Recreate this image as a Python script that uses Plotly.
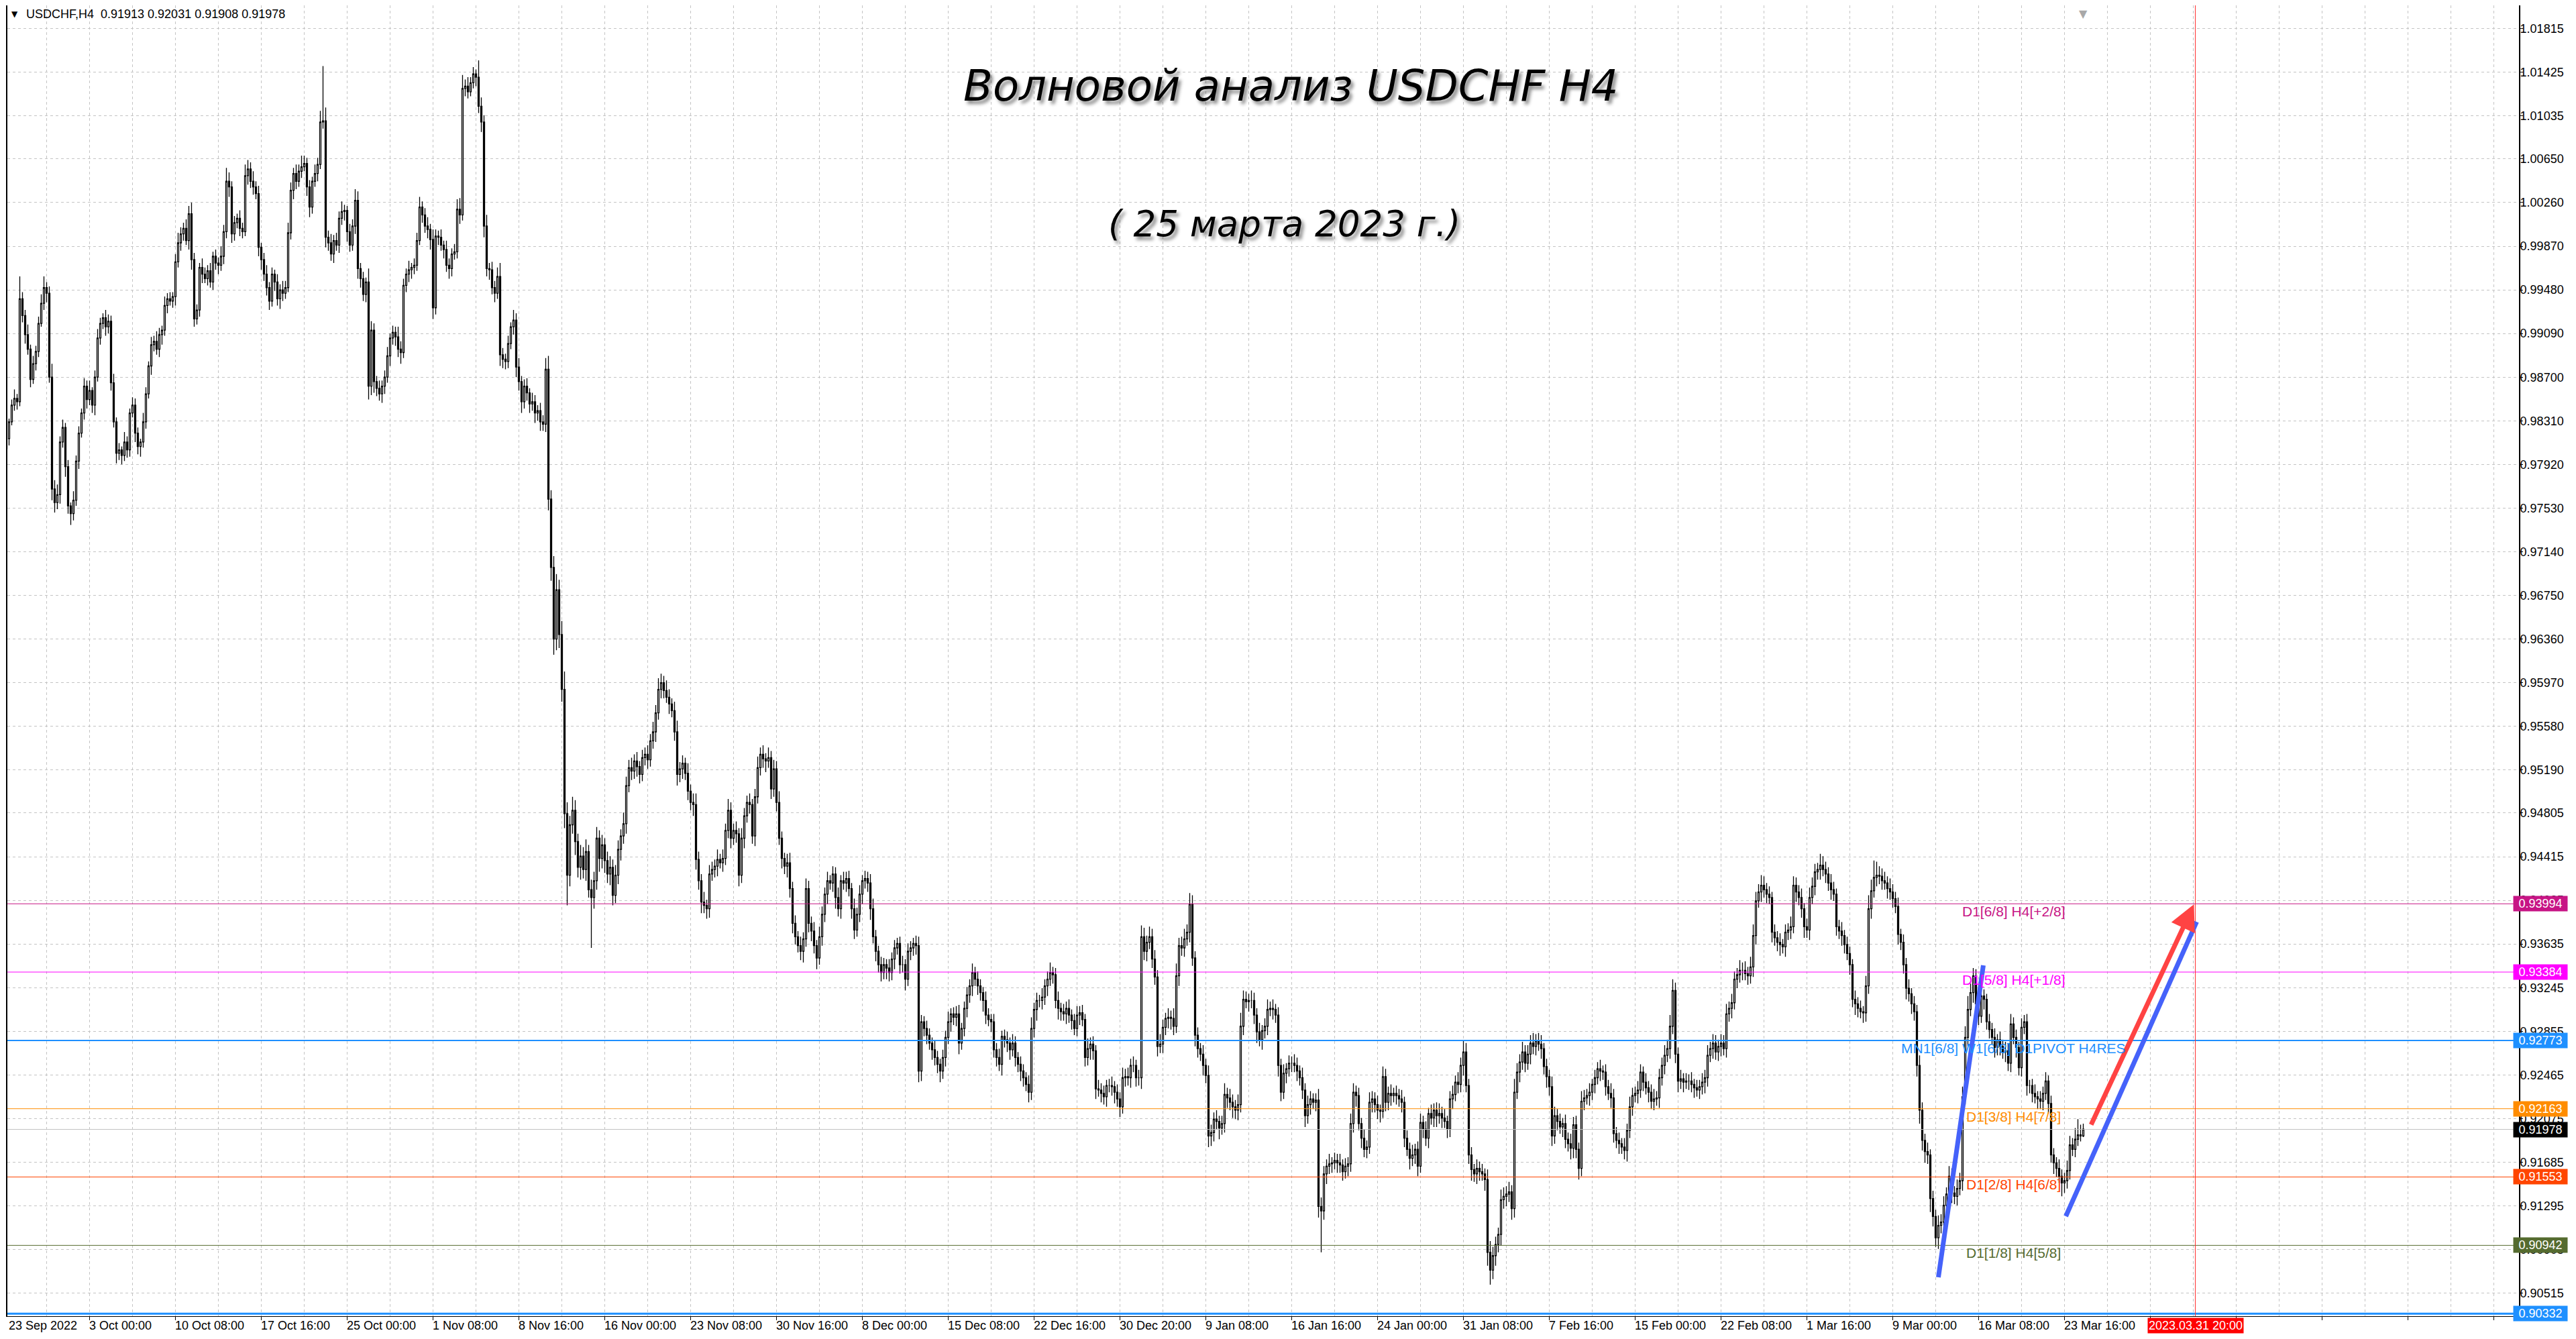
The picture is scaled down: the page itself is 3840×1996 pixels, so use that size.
import plotly.graph_objects as go

# USDCHF H4 - candles, prices in pips (x 10000)
first_open = 9800

close_pips = [
    9806, 9815, 9830, 9845, 9851, 9848, 9940, 9925, 9908, 9895,
    9868, 9882, 9893, 9918, 9936, 9950, 9945, 9870, 9770, 9758,
    9765, 9812, 9825, 9790, 9755, 9748, 9760, 9795, 9820, 9838,
    9862, 9850, 9858, 9845, 9870, 9905, 9918, 9923, 9915, 9920,
    9865, 9830, 9802, 9805, 9800, 9812, 9805, 9838, 9845, 9820,
    9808, 9812, 9830, 9855, 9880, 9899, 9902, 9895, 9908, 9912,
    9934, 9940, 9938, 9942, 9973, 9990, 9998, 10003, 9992, 10016,
    9975, 9922, 9930, 9968, 9962, 9958, 9965, 9955, 9978, 9972,
    9970, 9978, 10000, 10045, 10040, 9998, 10008, 10012, 10003, 10000,
    10050, 10056, 10045, 10040, 10034, 9986, 9975, 9962, 9950, 9938,
    9962, 9955, 9940, 9948, 9945, 9950, 9999, 10037, 10052, 10045,
    10054, 10058, 10061, 10040, 10022, 10045, 10052, 10060, 10098, 10099,
    9995, 9990, 9980, 9992, 9988, 10012, 10018, 10019, 10000, 9988,
    10005, 10028, 9967, 9958, 9944, 9955, 9862, 9912, 9866, 9860,
    9855, 9862, 9870, 9889, 9905, 9910, 9906, 9895, 9892, 9952,
    9962, 9966, 9968, 9970, 9992, 10022, 10015, 10005, 10002, 9993,
    9932, 9996, 9995, 9988, 9984, 9970, 9967, 9980, 9982, 10020,
    10015, 10128, 10130, 10125, 10133, 10141, 10138, 10112, 10098, 10005,
    9967, 9966, 9950, 9945, 9960, 9890, 9886, 9884, 9900, 9915,
    9921, 9879, 9866, 9848, 9862, 9856, 9846, 9848, 9838, 9840,
    9830, 9828, 9877, 9761, 9700, 9636, 9680, 9640, 9591, 9480,
    9425, 9470, 9483, 9455, 9432, 9442, 9430, 9446, 9412, 9405,
    9420, 9458, 9440, 9452, 9438, 9426, 9432, 9407, 9425, 9448,
    9460, 9471, 9505, 9521, 9518, 9527, 9522, 9515, 9530, 9533,
    9528, 9545, 9553, 9570, 9591, 9597, 9590, 9584, 9578, 9572,
    9553, 9515, 9520, 9525, 9516, 9500, 9490, 9488, 9439, 9420,
    9401, 9398, 9395, 9426, 9430, 9433, 9439, 9436, 9440, 9465,
    9483, 9458, 9465, 9462, 9425, 9458, 9478, 9490, 9488, 9460,
    9495, 9521, 9533, 9529, 9527, 9530, 9502, 9520, 9490, 9458,
    9440, 9433, 9436, 9413, 9382, 9370, 9362, 9357, 9368, 9413,
    9382, 9375, 9362, 9351, 9370, 9390, 9408, 9420, 9418, 9426,
    9405, 9395, 9420, 9418, 9422, 9413, 9395, 9376, 9390, 9408,
    9420, 9422, 9418, 9395, 9370, 9357, 9345, 9338, 9345, 9342,
    9338, 9350, 9360, 9364, 9345, 9345, 9332, 9357, 9360, 9364,
    9362, 9250, 9294, 9288, 9282, 9275, 9269, 9262, 9256, 9250,
    9262, 9280, 9294, 9301, 9298, 9301, 9275, 9288, 9306, 9318,
    9326, 9338, 9332, 9326, 9320, 9313, 9300, 9296, 9294, 9269,
    9262, 9256, 9281, 9278, 9275, 9269, 9275, 9262, 9256, 9250,
    9244, 9238, 9231, 9288, 9305, 9313, 9313, 9316, 9326, 9332,
    9338, 9336, 9313, 9306, 9303, 9301, 9306, 9300, 9295, 9288,
    9300, 9302, 9296, 9262, 9270, 9274, 9268, 9234, 9233, 9230,
    9227, 9237, 9237, 9236, 9231, 9225, 9218, 9244, 9245, 9244,
    9255, 9255, 9244, 9244, 9370, 9357, 9365, 9370, 9350, 9334,
    9272, 9274, 9289, 9297, 9298, 9297, 9290, 9335, 9362, 9360,
    9368, 9374, 9399, 9351, 9282, 9270, 9265, 9255, 9246, 9192,
    9195, 9207, 9205, 9199, 9203, 9229, 9226, 9222, 9218, 9215,
    9220, 9290, 9314, 9312, 9313, 9313, 9300, 9285, 9278, 9286,
    9290, 9305, 9306, 9305, 9300, 9255, 9231, 9248, 9252, 9257,
    9257, 9255, 9250, 9244, 9233, 9210, 9220, 9225, 9222, 9224,
    9129, 9125, 9158, 9165, 9167, 9168, 9170, 9168, 9166, 9160,
    9165, 9167, 9203, 9231, 9228, 9203, 9190, 9180, 9182, 9222,
    9225, 9220, 9215, 9214, 9245, 9222, 9230, 9228, 9230, 9228,
    9225, 9222, 9190, 9180, 9172, 9175, 9180, 9165, 9204, 9198,
    9190, 9212, 9208, 9215, 9210, 9212, 9208, 9205, 9198, 9225,
    9229, 9240, 9238, 9255, 9267, 9237, 9175, 9162, 9158, 9163,
    9160, 9158, 9153, 9088, 9072, 9085, 9095, 9104, 9135, 9138,
    9140, 9142, 9127, 9231, 9249, 9258, 9267, 9257, 9265, 9275,
    9272, 9277, 9274, 9270, 9254, 9245, 9236, 9192, 9210, 9205,
    9200, 9203, 9189, 9185, 9181, 9202, 9180, 9163, 9223, 9226,
    9228, 9231, 9238, 9244, 9252, 9250, 9249, 9236, 9230, 9226,
    9194, 9188, 9185, 9182, 9179, 9197, 9218, 9228, 9230, 9233,
    9249, 9240, 9235, 9231, 9223, 9225, 9226, 9244, 9255, 9264,
    9270, 9290, 9322, 9265, 9241, 9243, 9240, 9241, 9241, 9238,
    9235, 9233, 9236, 9240, 9244, 9264, 9270, 9275, 9267, 9272,
    9275, 9270, 9301, 9306, 9311, 9332, 9336, 9340, 9340, 9337,
    9335, 9343, 9371, 9402, 9410, 9416, 9412, 9408, 9405, 9374,
    9369, 9365, 9363, 9361, 9374, 9376, 9379, 9416, 9410, 9405,
    9395, 9379, 9376, 9405, 9415, 9428, 9430, 9434, 9430, 9426,
    9418, 9412, 9408, 9379, 9375, 9371, 9363, 9355, 9345, 9314,
    9310, 9306, 9303, 9302, 9326, 9395, 9411, 9423, 9425, 9424,
    9420, 9418, 9413, 9410, 9404, 9397, 9372, 9365, 9345, 9324,
    9319, 9310, 9303, 9255, 9215, 9188, 9178, 9175, 9136, 9120,
    9101, 9112, 9115, 9130, 9140, 9156, 9141, 9138, 9145, 9152,
    9227, 9280, 9305, 9320, 9335, 9310, 9299, 9317, 9314, 9294,
    9287, 9280, 9271, 9278, 9272, 9267, 9268, 9257, 9292, 9280,
    9271, 9253, 9289, 9294, 9237, 9237, 9230, 9227, 9225, 9223,
    9230, 9241, 9221, 9175, 9168, 9163, 9156, 9150, 9152, 9161,
    9184, 9180, 9189, 9193, 9192, 9198,
]

# upper / lower shadow lengths in pips
wick_up = [
    4, 6, 3, 5, 8, 4, 20, 6, 5, 9, 4, 7, 5, 6, 8, 10, 5, 6, 12, 8,
    9, 5, 7, 4, 6, 3, 8, 5, 6, 4, 7, 5, 9, 3, 6, 8, 5, 4, 7, 6,
    5, 8, 4, 6, 3, 9, 5, 4, 7, 6, 5, 3, 8, 6, 4, 7, 5, 9, 6, 4,
    8, 5, 6, 4, 7, 9, 6, 5, 8, 7, 10, 6, 5, 4, 8, 6, 5, 7, 4, 6,
    5, 9, 6, 12, 8, 5, 6, 4, 7, 5, 10, 8, 6, 9, 5, 7, 4, 6, 8, 5,
    6, 4, 7, 5, 8, 6, 9, 7, 5, 8, 6, 10, 7, 5, 6, 4, 8, 6, 10, 49,
    12, 6, 8, 5, 7, 6, 9, 5, 4, 7, 6, 10, 8, 5, 6, 4, 12, 8, 6, 5,
    7, 5, 6, 8, 4, 6, 5, 9, 7, 6, 5, 8, 4, 6, 7, 9, 5, 6, 8, 5,
    9, 6, 5, 7, 4, 8, 6, 5, 7, 9, 10, 12, 6, 8, 5, 6, 4, 15, 8, 6,
    10, 5, 7, 6, 8, 12, 6, 5, 7, 4, 9, 6, 8, 5, 6, 7, 4, 8, 6, 5,
    7, 6, 10, 12, 8, 10, 14, 9, 12, 16, 10, 8, 12, 9, 7, 10, 8, 11, 6, 9,
    8, 10, 7, 9, 6, 8, 10, 7, 9, 8, 6, 10, 8, 7, 9, 6, 8, 5, 7, 6,
    8, 6, 9, 7, 10, 8, 6, 9, 7, 5, 8, 10, 6, 7, 5, 9, 6, 8, 10, 7,
    6, 9, 5, 8, 7, 6, 9, 5, 8, 6, 10, 7, 6, 8, 5, 9, 7, 6, 8, 5,
    7, 10, 6, 8, 5, 9, 6, 8, 7, 10, 6, 5, 8, 9, 6, 7, 5, 8, 6, 9,
    7, 6, 8, 5, 9, 7, 6, 8, 5, 7, 6, 9, 5, 8, 6, 7, 5, 9, 6, 8,
    5, 7, 6, 8, 9, 6, 5, 7, 6, 5, 8, 6, 7, 5, 6, 8, 5, 7, 6, 5,
    7, 8, 6, 5, 7, 6, 5, 8, 6, 5, 7, 6, 9, 5, 6, 7, 8, 5, 6, 7,
    6, 8, 5, 7, 6, 5, 8, 6, 5, 7, 6, 8, 5, 6, 7, 5, 8, 6, 5, 7,
    6, 5, 8, 10, 6, 7, 5, 8, 6, 7, 9, 5, 6, 8, 5, 7, 6, 8, 5, 6,
    8, 6, 7, 5, 9, 6, 7, 5, 8, 6, 7, 5, 6, 8, 5, 7, 6, 9, 7, 8,
    6, 8, 5, 7, 10, 8, 6, 9, 7, 8, 6, 9, 7, 5, 8, 6, 9, 11, 7, 8,
    9, 7, 10, 8, 6, 7, 5, 8, 6, 9, 7, 6, 8, 5, 7, 10, 6, 8, 7, 6,
    9, 12, 8, 7, 6, 9, 7, 6, 8, 5, 7, 9, 6, 8, 5, 7, 6, 8, 5, 7,
    6, 8, 7, 5, 9, 6, 8, 7, 5, 6, 10, 8, 7, 6, 9, 5, 7, 6, 8, 5,
    7, 6, 9, 8, 6, 7, 5, 8, 6, 9, 7, 6, 8, 5, 9, 7, 6, 8, 5, 7,
    6, 8, 5, 7, 6, 9, 5, 7, 8, 6, 7, 5, 8, 6, 7, 9, 6, 8, 5, 7,
    8, 6, 9, 7, 10, 8, 6, 7, 5, 8, 6, 7, 5, 9, 10, 8, 7, 6, 9, 8,
    7, 9, 6, 12, 8, 7, 9, 6, 8, 7, 9, 6, 7, 8, 5, 7, 6, 9, 8, 6,
    7, 5, 8, 6, 9, 7, 8, 6, 9, 7, 6, 8, 5, 7, 6, 8, 5, 7, 6, 9,
    8, 6, 7, 5, 8, 6, 9, 7, 6, 8, 7, 5, 8, 6, 7, 9, 6, 8, 7, 9,
    8, 10, 10, 7, 6, 8, 5, 7, 6, 8, 5, 7, 6, 8, 7, 9, 6, 8, 7, 6,
    8, 7, 9, 6, 8, 7, 6, 9, 7, 8, 6, 9, 10, 8, 7, 9, 8, 6, 7, 5,
    7, 6, 8, 5, 7, 6, 9, 8, 7, 6, 8, 5, 7, 9, 8, 7, 6, 10, 8, 7,
    6, 8, 7, 5, 6, 8, 5, 7, 6, 5, 8, 6, 7, 5, 9, 12, 10, 15, 12, 8,
    7, 8, 6, 9, 7, 6, 8, 5, 7, 6, 8, 5, 7, 6, 9, 7, 6, 8, 5, 7,
    6, 9, 7, 8, 6, 9, 7, 6, 8, 7, 9, 10, 12, 8, 7, 6, 8, 7, 6, 5,
    7, 6, 8, 5, 7, 6, 8, 7, 9, 6, 7, 5, 8, 6, 7, 5, 6, 8, 5, 7,
    6, 8, 5, 7, 6, 5, 8, 6, 7, 9, 8, 6, 10, 14, 9, 5,
]

wick_dn = [
    5, 4, 6, 3, 5, 7, 4, 6, 8, 5, 7, 4, 6, 5, 3, 6, 8, 5, 10, 9,
    6, 8, 5, 9, 7, 10, 6, 5, 7, 4, 6, 8, 5, 7, 9, 4, 6, 5, 8, 6,
    7, 5, 9, 6, 8, 5, 7, 6, 4, 8, 7, 9, 5, 6, 4, 8, 6, 5, 7, 9,
    5, 7, 4, 6, 8, 5, 7, 6, 4, 8, 9, 7, 5, 6, 8, 4, 6, 5, 7, 6,
    8, 5, 7, 6, 9, 8, 6, 5, 7, 6, 4, 8, 6, 7, 5, 8, 9, 6, 7, 8,
    5, 8, 6, 9, 7, 5, 4, 6, 8, 7, 5, 6, 4, 8, 9, 6, 5, 7, 4, 6,
    9, 7, 6, 8, 5, 7, 6, 8, 9, 6, 5, 7, 9, 8, 6, 7, 12, 8, 10, 7,
    6, 8, 7, 5, 9, 6, 8, 7, 10, 5, 6, 7, 8, 6, 5, 4, 7, 6, 8, 9,
    10, 6, 7, 5, 8, 6, 9, 7, 5, 6, 8, 5, 7, 6, 4, 5, 8, 6, 9, 10,
    7, 9, 6, 8, 5, 10, 8, 7, 6, 5, 7, 9, 8, 10, 6, 7, 8, 6, 9, 7,
    8, 6, 7, 10, 12, 14, 10, 12, 11, 13, 27, 10, 8, 12, 9, 11, 8, 10, 7, 45,
    10, 8, 12, 9, 11, 8, 10, 9, 7, 8, 10, 7, 9, 6, 8, 7, 9, 8, 6, 7,
    8, 6, 7, 9, 6, 8, 7, 5, 9, 6, 8, 10, 7, 9, 6, 8, 7, 10, 9, 8,
    10, 7, 9, 8, 6, 7, 9, 5, 8, 6, 7, 9, 6, 8, 10, 7, 9, 6, 8, 7,
    9, 6, 7, 8, 10, 6, 9, 7, 8, 6, 9, 7, 10, 8, 9, 7, 6, 8, 10, 7,
    8, 9, 7, 10, 6, 8, 7, 9, 6, 8, 10, 7, 9, 6, 8, 7, 9, 8, 6, 7,
    9, 7, 8, 10, 6, 9, 7, 8, 6, 10, 8, 7, 9, 6, 8, 7, 10, 6, 8, 7,
    8, 10, 9, 7, 8, 6, 9, 7, 8, 10, 7, 8, 6, 9, 7, 8, 10, 6, 7, 8,
    7, 9, 6, 8, 7, 10, 8, 6, 9, 7, 8, 6, 10, 7, 8, 9, 6, 8, 7, 9,
    8, 6, 9, 7, 8, 10, 6, 8, 7, 9, 6, 8, 7, 10, 8, 6, 9, 7, 8, 6,
    7, 9, 6, 8, 7, 10, 8, 9, 6, 8, 7, 9, 6, 8, 10, 7, 9, 6, 8, 7,
    9, 6, 8, 7, 10, 8, 9, 6, 8, 7, 9, 6, 8, 7, 9, 10, 8, 6, 9, 7,
    8, 6, 9, 7, 10, 8, 6, 9, 7, 10, 9, 8, 7, 10, 6, 8, 9, 7, 10, 8,
    9, 7, 8, 6, 9, 7, 8, 10, 6, 9, 7, 8, 6, 9, 7, 10, 8, 6, 9, 7,
    8, 6, 9, 7, 8, 10, 7, 9, 6, 8, 10, 37, 8, 9, 7, 8, 6, 9, 7, 8,
    6, 9, 7, 8, 10, 6, 9, 7, 8, 6, 9, 7, 8, 10, 6, 8, 7, 9, 6, 8,
    7, 9, 8, 6, 10, 7, 8, 9, 6, 8, 7, 9, 6, 8, 10, 7, 9, 6, 8, 7,
    9, 6, 8, 7, 9, 6, 8, 10, 7, 9, 8, 6, 10, 12, 13, 8, 9, 7, 10, 8,
    9, 7, 10, 8, 6, 9, 7, 8, 6, 9, 7, 8, 6, 9, 7, 10, 8, 9, 7, 8,
    6, 9, 8, 7, 10, 9, 8, 10, 7, 8, 6, 9, 7, 8, 6, 9, 7, 8, 6, 9,
    8, 7, 9, 6, 8, 10, 7, 8, 6, 9, 7, 8, 6, 9, 7, 8, 6, 9, 7, 8,
    6, 9, 7, 8, 10, 7, 9, 6, 8, 7, 9, 6, 8, 7, 10, 8, 6, 9, 7, 8,
    9, 6, 8, 7, 9, 6, 8, 7, 9, 6, 8, 7, 9, 8, 6, 9, 7, 8, 6, 9,
    7, 8, 10, 6, 9, 7, 8, 6, 9, 7, 8, 10, 7, 9, 6, 8, 7, 9, 6, 8,
    7, 9, 6, 8, 7, 9, 8, 6, 9, 7, 10, 8, 6, 9, 8, 7, 9, 6, 8, 7,
    8, 6, 9, 7, 8, 6, 9, 7, 8, 10, 7, 9, 8, 10, 12, 9, 10, 8, 12, 9,
    8, 10, 7, 9, 8, 6, 9, 7, 8, 6, 9, 7, 8, 6, 9, 7, 8, 6, 9, 7,
    8, 6, 9, 7, 8, 6, 9, 7, 8, 6, 9, 7, 8, 6, 9, 7, 8, 6, 9, 7,
    8, 6, 9, 7, 10, 8, 6, 12, 9, 7, 8, 6, 7, 6, 5, 1,
]

# time axis labels, one every 32 bars starting at bar 0
time_labels = [
    "23 Sep 2022", "3 Oct 00:00", "10 Oct 08:00", "17 Oct 16:00", "25 Oct 00:00",
    "1 Nov 08:00", "8 Nov 16:00", "16 Nov 00:00", "23 Nov 08:00", "30 Nov 16:00",
    "8 Dec 00:00", "15 Dec 08:00", "22 Dec 16:00", "30 Dec 20:00", "9 Jan 08:00",
    "16 Jan 16:00", "24 Jan 00:00", "31 Jan 08:00", "7 Feb 16:00", "15 Feb 00:00",
    "22 Feb 08:00", "1 Mar 16:00", "9 Mar 00:00", "16 Mar 08:00", "23 Mar 16:00",
]

price_ticks = [
    1.01815, 1.01425, 1.01035, 1.00650, 1.00260, 0.99870, 0.99480, 0.99090,
    0.98700, 0.98310, 0.97920, 0.97530, 0.97140, 0.96750, 0.96360, 0.95970,
    0.95580, 0.95190, 0.94805, 0.94415, 0.94025, 0.93635, 0.93245, 0.92855,
    0.92465, 0.92075, 0.91685, 0.91295, 0.90905, 0.90515,
]

# murrey levels: price, colour, line width, label
level_prices = [0.93994, 0.93384, 0.92773, 0.92163, 0.91553, 0.90942, 0.90332]
level_colors = ["#C71585", "#FF00FF", "#1E90FF", "#FF8C00", "#FF4500", "#556B2F", "#1E90FF"]
level_widths = [1, 1, 2, 1, 1, 1, 3]
level_texts = ["D1[6/8] H4[+2/8]", "D1[5/8] H4[+1/8]", "MN1[6/8] W1[6/8] D1PIVOT H4RES",
               "D1[3/8] H4[7/8]", "D1[2/8] H4[6/8]", "D1[1/8] H4[5/8]", ""]
bid_price = 0.91978

# hand drawn wave lines (bar, price)
wave1 = [(721, 0.90656), (737.75, 0.93444)]
wave2 = [(768.5, 0.91202), (817.25, 0.93833)]
red_arrow = [(777.75, 0.92011), (816.25, 0.93989)]
end_bar = 816.75

n = len(close_pips)
bars = list(range(n))
opens = [first_open] + close_pips[:-1]
highs = [max(o, c) + u for o, c, u in zip(opens, close_pips, wick_up)]
lows = [min(o, c) - d for o, c, d in zip(opens, close_pips, wick_dn)]

fig = go.Figure()
fig.add_trace(go.Candlestick(
    x=bars,
    open=[v / 10000 for v in opens],
    high=[v / 10000 for v in highs],
    low=[v / 10000 for v in lows],
    close=[v / 10000 for v in close_pips],
    increasing=dict(line=dict(color="black", width=1.3), fillcolor="white"),
    decreasing=dict(line=dict(color="black", width=1.3), fillcolor="black"),
    whiskerwidth=0, showlegend=False, hoverinfo="skip",
))

FONT = "Liberation Sans, Arial, sans-serif"
shapes = []
annotations = []

# horizontal levels across whole chart
for p, col, w in zip(level_prices, level_colors, level_widths):
    shapes.append(dict(type="line", xref="paper", x0=0, x1=1, yref="y", y0=p, y1=p,
                       line=dict(color=col, width=w), layer="above"))
shapes.append(dict(type="line", xref="paper", x0=0, x1=1, yref="y", y0=bid_price, y1=bid_price,
                   line=dict(color="#C0C0C0", width=1), layer="above"))

# future time line
shapes.append(dict(type="line", xref="x", x0=end_bar, x1=end_bar, yref="paper", y0=0, y1=1,
                   line=dict(color="#FF3030", width=1), layer="above"))

# blue wave lines
for seg in (wave1, wave2):
    shapes.append(dict(type="line", xref="x", yref="y",
                       x0=seg[0][0], y0=seg[0][1], x1=seg[1][0], y1=seg[1][1],
                       line=dict(color="#4562FA", width=7), layer="above"))

# red arrow
annotations.append(dict(x=red_arrow[1][0], y=red_arrow[1][1], ax=red_arrow[0][0], ay=red_arrow[0][1],
                        xref="x", yref="y", axref="x", ayref="y", text="", showarrow=True,
                        arrowhead=2, arrowsize=1.1, arrowwidth=7, arrowcolor="#FF4343"))

# level captions
for p, col, t in zip(level_prices, level_colors, level_texts):
    if t:
        annotations.append(dict(x=749, y=p, xref="x", yref="y", text=t, showarrow=False,
                                xanchor="center", yanchor="top", yshift=2,
                                font=dict(family=FONT, size=21, color=col)))

# price boxes on the right scale
box_prices = level_prices + [bid_price]
box_colors = level_colors + ["#000000"]
for p, col in zip(box_prices, box_colors):
    annotations.append(dict(x=1, y=p, xref="paper", yref="y", text=f"{p:.5f}", showarrow=False,
                            xanchor="left", yanchor="middle", xshift=-9, width=78, height=20,
                            align="center", bgcolor=col, borderpad=1,
                            font=dict(family=FONT, size=18, color="white")))

# time labels (the first one sits at the left edge of the window)
for k, t in enumerate(time_labels):
    if k == 0:
        annotations.append(dict(x=0, y=0, xref="paper", yref="paper", text=t, showarrow=False,
                                xanchor="left", yanchor="middle", xshift=0, yshift=-14,
                                font=dict(family=FONT, size=18, color="black")))
    else:
        annotations.append(dict(x=32 * k, y=0, xref="x", yref="paper", text=t, showarrow=False,
                                xanchor="left", yanchor="middle", xshift=-3, yshift=-14,
                                font=dict(family=FONT, size=18, color="black")))
annotations.append(dict(x=end_bar, y=0, xref="x", yref="paper", text="2023.03.31 20:00",
                        showarrow=False, xanchor="center", yanchor="middle", yshift=-14,
                        bgcolor="#FF0000", borderpad=1,
                        font=dict(family=FONT, size=18, color="white")))

# header
annotations.append(dict(x=0, y=1, xref="paper", yref="paper", text="▼", showarrow=False,
                        xanchor="left", yanchor="middle", xshift=4, yshift=-13,
                        font=dict(family="DejaVu Sans", size=12, color="black")))
annotations.append(dict(x=0, y=1, xref="paper", yref="paper",
                        text="USDCHF,H4&nbsp;&nbsp;0.91913 0.92031 0.91908 0.91978", showarrow=False,
                        xanchor="left", yanchor="middle", xshift=26, yshift=-13,
                        font=dict(family=FONT, size=18, color="black")))
annotations.append(dict(x=n - 1, y=1, xref="x", yref="paper", text="▼", showarrow=False,
                        xanchor="center", yanchor="top", yshift=-1,
                        font=dict(family="DejaVu Sans", size=16, color="#A8A8A8")))

# title
shadow = "4px 5px 5px rgba(0,0,0,0.45)"
annotations.append(dict(x=0.511, y=0.9385, xref="paper", yref="paper",
                        text="Волновой анализ USDCHF H4", showarrow=False,
                        xanchor="center", yanchor="middle",
                        font=dict(family="DejaVu Sans", size=64, color="black",
                                  style="italic", shadow=shadow)))
annotations.append(dict(x=0.5085, y=0.8335, xref="paper", yref="paper",
                        text="( 25 марта 2023 г.)", showarrow=False,
                        xanchor="center", yanchor="middle",
                        font=dict(family="DejaVu Sans", size=53, color="black",
                                  style="italic", shadow=shadow)))

fig.update_layout(
    width=3840, height=1996,
    margin=dict(l=3, r=93, t=0, b=42),
    paper_bgcolor="white", plot_bgcolor="white",
    shapes=shapes, annotations=annotations,
    showlegend=False,
    xaxis=dict(range=[1.375, 937.375], rangeslider=dict(visible=False),
               tickmode="linear", tick0=0, dtick=32, ticks="outside", ticklen=5,
               tickcolor="black", showticklabels=False,
               showgrid=True, gridcolor="#C4C4C4", griddash="4px,4px", gridwidth=1,
               minor=dict(tickmode="linear", tick0=0, dtick=16, showgrid=True,
                          gridcolor="#C4C4C4", griddash="4px,4px", ticks=""),
               showline=True, mirror=True, linecolor="black", linewidth=1, zeroline=False),
    yaxis=dict(range=[0.90309, 1.02022], side="right",
               tickmode="array", tickvals=price_ticks, ticktext=[f"{v:.5f}" for v in price_ticks],
               ticks="outside", ticklen=4, tickcolor="black", ticklabelstandoff=-8,
               tickfont=dict(family=FONT, size=18, color="black"),
               showgrid=True, gridcolor="#C4C4C4", griddash="4px,4px", gridwidth=1,
               showline=True, mirror=True, linecolor="black", linewidth=2, zeroline=False),
)

fig.write_html("out.html")
